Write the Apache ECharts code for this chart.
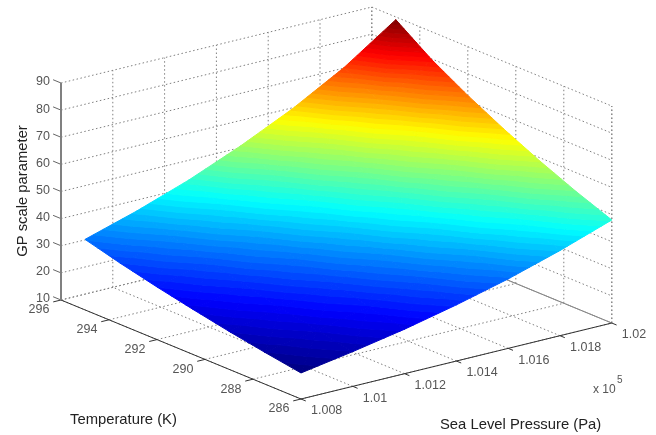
<!DOCTYPE html>
<html>
<head>
<meta charset="utf-8">
<style>
    html, body { margin: 0; padding: 0; background: #fff; }
    #chart { width: 656px; height: 435px; }
</style>
<script src="https://cdn.jsdelivr.net/npm/echarts@6/dist/echarts.min.js"></script>
</head>
<body>
<div id="chart"></div>
<script>
// values
const tempTicks = [286, 288, 290, 292, 294, 296];
const pressTicks = [1.008, 1.010, 1.012, 1.014, 1.016, 1.018, 1.020];
const pressLabels = ['1.008', '1.01', '1.012', '1.014', '1.016', '1.018', '1.02'];
const gpTicks = [10, 20, 30, 40, 50, 60, 70, 80, 90];

const surfaceTemps = [286, 287.5, 289, 290.5, 292, 293.5, 295];
const surfacePress = [1.008, 1.010, 1.012, 1.014, 1.016, 1.018, 1.020];
// one row for each pressure, one column for each temperature
const gp1008 = [19.6, 21.7, 24.0, 26.6, 29.4, 32.5, 36.0];
const gp1010 = [22.8, 25.2, 27.9, 30.9, 34.1, 37.8, 41.8];
const gp1012 = [26.4, 29.2, 32.4, 35.8, 39.6, 43.9, 48.5];
const gp1014 = [30.7, 34.0, 37.6, 41.6, 46.0, 50.9, 56.4];
const gp1016 = [35.6, 39.4, 43.6, 48.3, 53.4, 59.1, 65.4];
const gp1018 = [41.4, 45.8, 50.7, 56.1, 62.0, 68.7, 76.0];
const gp1020 = [48.0, 53.1, 58.8, 65.1, 72.0, 79.7, 89.0];
const surfaceRows = [gp1008, gp1010, gp1012, gp1014, gp1016, gp1018, gp1020];

const T_MIN = 286, T_MAX = 296, P_MIN = 1.008, P_MAX = 1.02, Z_MIN = 10, Z_MAX = 90;
const Z_LOW = 19.6, Z_HIGH = 89, BANDS = 64;

// fixed 3d view, gives a position on the hidden plane axes
function project(t, p, z) {
    const dt = t - T_MIN, dp = (p - P_MIN) / 0.001, dz = z - Z_MIN;
    return [301 - 24 * dt + 25.9 * dp, 399 - 9.9 * dt - 6.33 * dp - 2.7125 * dz];
}

function jet(v) {
    const ramp = (c) => Math.round(255 * Math.max(0, Math.min(1, 1.5 - Math.abs(4 * v - c))));
    return 'rgb(' + ramp(3) + ',' + ramp(2) + ',' + ramp(1) + ')';
}

// keep the part of a polygon above or below a height
function clipZ(poly, level, keepAbove) {
    const out = [];
    for (let i = 0; i < poly.length; i++) {
        const a = poly[i], b = poly[(i + 1) % poly.length];
        const aIn = keepAbove ? a[2] >= level : a[2] <= level;
        const bIn = keepAbove ? b[2] >= level : b[2] <= level;
        if (aIn) out.push(a);
        if (aIn !== bIn) {
            const k = (level - a[2]) / (b[2] - a[2]);
            out.push([a[0] + (b[0] - a[0]) * k, a[1] + (b[1] - a[1]) * k, level]);
        }
    }
    return out;
}

// triangles of the surface mesh
const triangles = [];
for (let r = 0; r < surfacePress.length - 1; r++) {
    for (let c = 0; c < surfaceTemps.length - 1; c++) {
        const v = (rr, cc) => [surfaceTemps[cc], surfacePress[rr], surfaceRows[rr][cc]];
        triangles.push([v(r, c), v(r, c + 1), v(r + 1, c + 1)]);
        triangles.push([v(r, c), v(r + 1, c + 1), v(r + 1, c)]);
    }
}

// one item per colour band, drawn low to high so the mesh seams stay hidden
const bandIndex = [];
for (let b = 0; b < BANDS; b++) bandIndex.push(b);

function renderBand(params, api) {
    const b = params.dataIndex;
    const step = (Z_HIGH - Z_LOW) / BANDS;
    const lo = Z_LOW + b * step, hi = lo + step;
    const color = jet((b + 0.5) / BANDS);
    const children = [];
    triangles.forEach((tri) => {
        let poly = clipZ(tri, lo, true);
        if (poly.length) poly = clipZ(poly, hi, false);
        if (poly.length < 3) return;
        children.push({
            type: 'polygon',
            shape: { points: poly.map((q) => api.coord(project(q[0], q[1], q[2]))) },
            style: { fill: color, stroke: color, lineWidth: 1 }
        });
    });
    return { type: 'group', children: children };
}

// box lines: start and end as t, p, z
const dotted = [], solidGray = [], axisDark = [], axisZ = [];
tempTicks.forEach((t) => {
    dotted.push([t, P_MIN, Z_MIN, t, P_MAX, Z_MIN]);
    dotted.push([t, P_MAX, Z_MIN, t, P_MAX, Z_MAX]);
    axisDark.push([t, P_MIN, Z_MIN, t, P_MIN - 0.0003, Z_MIN]);
});
pressTicks.forEach((p) => {
    dotted.push([T_MIN, p, Z_MIN, T_MAX, p, Z_MIN]);
    dotted.push([T_MAX, p, Z_MIN, T_MAX, p, Z_MAX]);
    axisDark.push([T_MIN, p, Z_MIN, T_MIN - 0.2, p, Z_MIN]);
});
gpTicks.forEach((z) => {
    dotted.push([T_MAX, P_MIN, z, T_MAX, P_MAX, z]);
    dotted.push([T_MAX, P_MAX, z, T_MIN, P_MAX, z]);
    axisZ.push([T_MAX, P_MIN, z, T_MAX + 0.33, P_MIN, z]);
});
dotted.push([T_MIN, P_MAX, Z_MIN, T_MIN, P_MAX, Z_MAX]);
solidGray.push([T_MIN, P_MAX, Z_MIN, T_MAX, P_MAX, Z_MIN]);
axisDark.push([T_MIN, P_MIN, Z_MIN, T_MAX, P_MIN, Z_MIN]);
axisDark.push([T_MIN, P_MIN, Z_MIN, T_MIN, P_MAX, Z_MIN]);
const zSpine = [[T_MAX, P_MIN, Z_MIN, T_MAX, P_MIN, Z_MAX]];

function lineSeries(rows, style) {
    return {
        type: 'custom',
        silent: true,
        animation: false,
        coordinateSystem: 'cartesian2d',
        data: rows,
        renderItem: function (params, api) {
            const s = rows[params.dataIndex];
            const a = api.coord(project(s[0], s[1], s[2]));
            const b = api.coord(project(s[3], s[4], s[5]));
            return {
                type: 'line',
                shape: { x1: a[0], y1: a[1], x2: b[0], y2: b[1] },
                style: Object.assign({ fill: null }, style)
            };
        }
    };
}

// tick labels: text, then the anchor in t, p, z
const tickTexts = [];
tempTicks.forEach((t) => tickTexts.push({ text: String(t), at: [t, P_MIN, Z_MIN], dx: -22, dy: 10, align: 'center' }));
pressTicks.forEach((p, i) => tickTexts.push({ text: pressLabels[i], at: [T_MIN, p, Z_MIN], dx: 10, dy: 12, align: 'left' }));
gpTicks.forEach((z) => tickTexts.push({ text: String(z), at: [T_MAX, P_MIN, z], dx: -11, dy: -1, align: 'right' }));

const labelSeries = {
    type: 'custom',
    silent: true,
    animation: false,
    coordinateSystem: 'cartesian2d',
    data: tickTexts.map((d, i) => i),
    renderItem: function (params, api) {
        const d = tickTexts[params.dataIndex];
        const pos = api.coord(project(d.at[0], d.at[1], d.at[2]));
        return {
            type: 'text',
            style: {
                text: d.text,
                x: pos[0] + d.dx,
                y: pos[1] + d.dy,
                fill: '#555',
                font: '12.5px "Liberation Sans"',
                align: d.align,
                verticalAlign: 'middle'
            }
        };
    }
};

const titleFont = '14.8px "Liberation Sans"';

const myChart = echarts.init(document.getElementById('chart'), null, { renderer: 'canvas' });
myChart.setOption({
    animation: false,
    backgroundColor: '#fff',
    grid: { left: 0, right: 0, top: 0, bottom: 0 },
    xAxis: { type: 'value', min: 0, max: 656, show: false },
    yAxis: { type: 'value', min: 0, max: 435, inverse: true, show: false },
    series: [
        lineSeries(dotted, { stroke: '#808080', lineWidth: 1, lineDash: [1.5, 2.5] }),
        lineSeries(solidGray, { stroke: '#888', lineWidth: 1 }),
        {
            type: 'custom',
            silent: true,
            animation: false,
            coordinateSystem: 'cartesian2d',
            data: bandIndex,
            renderItem: renderBand
        },
        lineSeries(axisDark, { stroke: '#333', lineWidth: 1 }),
        lineSeries(axisZ, { stroke: '#666', lineWidth: 1 }),
        lineSeries(zSpine, { stroke: '#808080', lineWidth: 2 }),
        labelSeries
    ],
    graphic: [
        { type: 'text', x: 70, y: 420, style: { text: 'Temperature (K)', fill: '#222', font: titleFont, verticalAlign: 'middle' } },
        { type: 'text', x: 440, y: 425, style: { text: 'Sea Level Pressure (Pa)', fill: '#222', font: titleFont, verticalAlign: 'middle' } },
        { type: 'text', x: 23, y: 191, rotation: Math.PI / 2, style: { text: 'GP scale parameter', fill: '#222', font: titleFont, align: 'center', verticalAlign: 'middle' } },
        { type: 'text', x: 593, y: 390, style: { text: 'x 10', fill: '#555', font: '12px "Liberation Sans"', verticalAlign: 'middle' } },
        { type: 'text', x: 617, y: 380, style: { text: '5', fill: '#555', font: '10px "Liberation Sans"', verticalAlign: 'middle' } }
    ]
});
</script>
</body>
</html>
